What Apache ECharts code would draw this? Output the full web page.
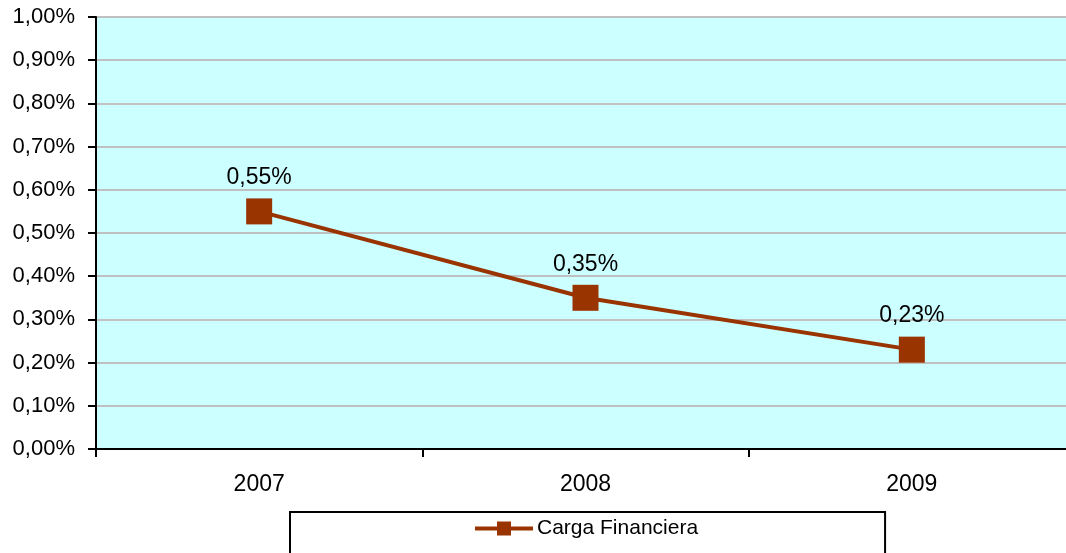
<!DOCTYPE html>
<html>
<head>
<meta charset="utf-8">
<style>
  html, body { margin: 0; padding: 0; background: #fff; overflow: hidden; }
  #chart { width: 1066px; height: 553px; }
</style>
<script src="https://cdn.jsdelivr.net/npm/echarts@6/dist/echarts.min.js"></script>
</head>
<body>
<div id="chart"></div>
<script>
// datos del grafico
const years = ['2007', '2008', '2009'];
const cargaFinanciera = [0.55, 0.35, 0.23]; // en %
const seriesName = 'Carga Financiera';

const fmtPct = v => v.toFixed(2).replace('.', ',') + '%';

const chart = echarts.init(document.getElementById('chart'));

const option = {
  animation: false,
  textStyle: { fontFamily: 'Liberation Sans, Arial, sans-serif' },
  grid: {
    left: 96,
    top: 17,
    right: -9,
    bottom: 104,
    outerBoundsMode: 'none',
    containLabel: false,
    show: true,
    backgroundColor: '#CCFFFF',
    borderColor: '#808080',
    borderWidth: 2
  },
  legend: {
    data: [seriesName],
    left: 290,
    top: 512,
    orient: 'horizontal',
    selectedMode: false,
    padding: [6, 187, 40, 185],
    borderColor: '#000',
    borderWidth: 2,
    itemWidth: 58,
    itemHeight: 14,
    itemGap: 4,
    icon: 'path://M0,5H22V0H36V5H58V9H36V14H22V9H0Z',
    textStyle: { color: '#000', fontSize: 21, padding: [0, 0, 0, -1] }
  },
  xAxis: {
    type: 'category',
    data: years,
    boundaryGap: true,
    axisLine: { lineStyle: { color: '#000', width: 2 } },
    axisTick: { show: true, length: 8, lineStyle: { color: '#000', width: 2 } },
    axisLabel: { color: '#000', fontSize: 23, margin: 24 },
    splitLine: { show: false }
  },
  yAxis: {
    type: 'value',
    min: 0,
    max: 1,
    interval: 0.1,
    axisLine: { show: true, lineStyle: { color: '#000', width: 2 } },
    axisTick: { show: true, length: 8, lineStyle: { color: '#000', width: 2 } },
    axisLabel: { color: '#000', fontSize: 22, margin: 21, formatter: fmtPct },
    splitLine: { show: true, lineStyle: { color: '#C0C0C0', width: 2 } }
  },
  series: [
    {
      name: seriesName,
      type: 'line',
      data: cargaFinanciera,
      symbol: 'rect',
      symbolSize: 26,
      lineStyle: { color: '#993300', width: 4 },
      itemStyle: { color: '#993300' },
      label: {
        show: true,
        position: 'top',
        distance: 9,
        color: '#000',
        fontSize: 23,
        formatter: p => fmtPct(p.value)
      }
    }
  ]
};

chart.setOption(option);
</script>
</body>
</html>
